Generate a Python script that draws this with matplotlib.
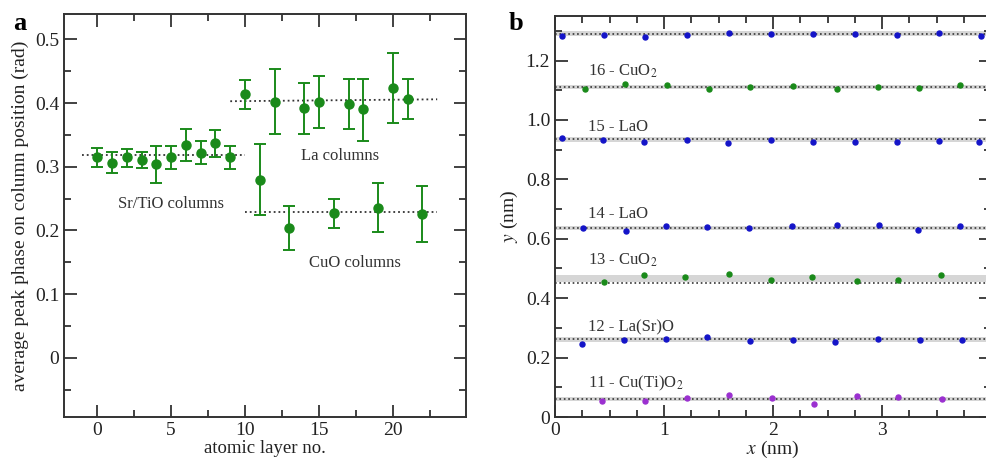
import numpy as np
import matplotlib
matplotlib.use("Agg")
import matplotlib.pyplot as plt
from matplotlib.ticker import MultipleLocator

plt.rcParams['font.family'] = 'serif'
plt.rcParams['font.serif'] = ['Liberation Serif', 'DejaVu Serif']
plt.rcParams['mathtext.fontset'] = 'stix'

# ---- panel a data ----
layer = [0, 1, 2, 3, 4, 5, 6, 7, 8, 9, 10, 11, 12, 13, 14, 15, 16, 17, 18, 19, 20, 21, 22]
phase = [0.316, 0.306, 0.316, 0.310, 0.304, 0.316, 0.334, 0.322, 0.337, 0.315,
         0.414, 0.280, 0.402, 0.204, 0.392, 0.402, 0.227, 0.398, 0.390, 0.235,
         0.424, 0.406, 0.226]
phase_hi = [0.330, 0.323, 0.328, 0.323, 0.333, 0.333, 0.359, 0.340, 0.358, 0.333,
            0.436, 0.336, 0.453, 0.238, 0.432, 0.443, 0.249, 0.438, 0.438, 0.274,
            0.478, 0.438, 0.270]
phase_lo = [0.300, 0.290, 0.300, 0.298, 0.274, 0.297, 0.309, 0.304, 0.316, 0.296,
            0.391, 0.224, 0.351, 0.169, 0.352, 0.361, 0.204, 0.360, 0.341, 0.197,
            0.369, 0.375, 0.182]
# mean levels (x start, x end, level)
srtio_line = ([-1, 10], [0.318, 0.318])
la_line = ([9, 23], [0.403, 0.406])
cuo_line = ([10, 23], [0.229, 0.229])

# ---- panel b data ----
row_labels = ['11 - Cu(Ti)O$_2$', '12 - La(Sr)O', '13 - CuO$_2$', '14 - LaO',
              '15 - LaO', '16 - CuO$_2$', None]
row_label_y = [0.112, 0.302, 0.526, 0.683, 0.975, 1.164, None]
row_colors = ['#9b30d0', '#1414c8', '#1a8a1a', '#1414c8', '#1414c8', '#1a8a1a', '#1414c8']
row_line = [0.062, 0.263, 0.451, 0.635, 0.936, 1.111, 1.290]
row_band = [0.061, 0.260, 0.467, 0.635, 0.935, 1.111, 1.291]
row_band_hw = [0.007, 0.008, 0.011, 0.007, 0.009, 0.006, 0.008]

x11 = [0.435, 0.824, 1.21, 1.60, 1.99, 2.38, 2.77, 3.15, 3.55]
y11 = [0.055, 0.053, 0.063, 0.073, 0.065, 0.045, 0.072, 0.069, 0.059]
x12 = [0.25, 0.63, 1.02, 1.39, 1.79, 2.18, 2.57, 2.96, 3.35, 3.73]
y12 = [0.247, 0.260, 0.263, 0.271, 0.255, 0.260, 0.253, 0.264, 0.260, 0.260]
x13 = [0.45, 0.82, 1.19, 1.60, 1.98, 2.36, 2.77, 3.15, 3.54]
y13 = [0.455, 0.478, 0.470, 0.481, 0.461, 0.471, 0.459, 0.462, 0.479]
x14 = [0.26, 0.65, 1.02, 1.39, 1.78, 2.17, 2.59, 2.97, 3.33, 3.72]
y14 = [0.636, 0.627, 0.644, 0.640, 0.636, 0.644, 0.648, 0.645, 0.631, 0.642]
x15 = [0.067, 0.44, 0.82, 1.21, 1.59, 1.98, 2.37, 2.75, 3.14, 3.52, 3.89]
y15 = [0.939, 0.931, 0.925, 0.934, 0.923, 0.931, 0.926, 0.925, 0.926, 0.929, 0.926]
x16 = [0.273, 0.64, 1.03, 1.41, 1.79, 2.18, 2.59, 2.96, 3.34, 3.72]
y16 = [1.104, 1.121, 1.119, 1.104, 1.111, 1.113, 1.105, 1.110, 1.108, 1.117]
x17 = [0.061, 0.45, 0.827, 1.21, 1.60, 1.98, 2.37, 2.75, 3.14, 3.52, 3.91]
y17 = [1.284, 1.285, 1.278, 1.286, 1.292, 1.288, 1.288, 1.288, 1.287, 1.293, 1.284]
row_x = [x11, x12, x13, x14, x15, x16, x17]
row_y = [y11, y12, y13, y14, y15, y16, y17]

fig = plt.figure(figsize=(9.86, 4.59), dpi=100)
spine_col = '#333333'
green = '#1a8a1a'


def style_axes(ax):
    for s in ax.spines.values():
        s.set_color(spine_col)
        s.set_linewidth(1.4)
    ax.tick_params(which='both', direction='in', top=True, right=True,
                   color=spine_col, width=1.3, labelsize=14, labelcolor='#222222')
    ax.tick_params(which='major', length=9)
    ax.tick_params(which='minor', length=5)


# panel a
ax = fig.add_axes([64 / 986, 42 / 459, 402 / 986, 403 / 459])
style_axes(ax)
ax.plot(*srtio_line, ls=':', color='#333333', lw=1.3)
ax.plot(*la_line, ls=':', color='#333333', lw=1.3)
ax.plot(*cuo_line, ls=':', color='#333333', lw=1.3)
phase = np.array(phase)
yerr = [phase - np.array(phase_lo), np.array(phase_hi) - phase]
ax.errorbar(layer, phase, yerr=yerr, fmt='o', color=green, ms=6.5,
            elinewidth=1.4, capsize=4, capthick=1.4, zorder=3)
ax.set_xlim(-2.25, 24.95)
ax.set_ylim(-0.093, 0.54)
ax.xaxis.set_minor_locator(MultipleLocator(2.5))
ax.yaxis.set_minor_locator(MultipleLocator(0.05))
ax.set_xticks([0, 5, 10, 15, 20])
ax.set_yticks([0, 0.1, 0.2, 0.3, 0.4, 0.5])
ax.set_yticklabels(['0', '0.1', '0.2', '0.3', '0.4', '0.5'])
ax.set_xlabel('atomic layer no.', fontsize=13.5, labelpad=1, color='#222222')
ax.set_ylabel('average peak phase on column position (rad)', fontsize=14,
              labelpad=4, color='#222222')
ax.text(5.0, 0.241, 'Sr/TiO columns', fontsize=12, ha='center', va='center', color='#333333')
ax.text(16.4, 0.317, 'La columns', fontsize=12, ha='center', va='center', color='#333333')
ax.text(17.45, 0.149, 'CuO columns', fontsize=12, ha='center', va='center', color='#333333')
fig.text(20 / 986, 1 - 24 / 459, 'a', fontsize=19, fontweight='bold', ha='center', va='center')

# panel b
bx = fig.add_axes([555 / 986, 42 / 459, 436 / 986, 401 / 459])
style_axes(bx)
for i in range(len(row_x)):
    bx.axhspan(row_band[i] - row_band_hw[i], row_band[i] + row_band_hw[i],
               color='#d6d6d6', lw=0, zorder=1)
    bx.axhline(row_line[i], ls=':', color='#333333', lw=1.2, zorder=2)
    bx.plot(row_x[i], row_y[i], 'o', color=row_colors[i], ms=3.6, zorder=3)
    if row_labels[i] is not None:
        bx.text(0.3, row_label_y[i], row_labels[i], fontsize=12, ha='left',
                va='center', color='#333333')
bx.set_xlim(0, 4.0)
bx.set_ylim(0, 1.35)
bx.xaxis.set_minor_locator(MultipleLocator(0.25))
bx.yaxis.set_minor_locator(MultipleLocator(0.1))
bx.set_yticks([0, 0.2, 0.4, 0.6, 0.8, 1.0, 1.2])
bx.set_yticklabels(['0', '0.2', '0.4', '0.6', '0.8', '1.0', '1.2'])
bx.set_xticks([0, 1, 2, 3])
bx.set_xticklabels(['0', '1', '2', '3'])
bx.set_xlabel('$x$ (nm)', fontsize=14, labelpad=0, color='#222222')
bx.set_ylabel('$y$ (nm)', fontsize=14, labelpad=4, color='#222222')
fig.text(516 / 986, 1 - 24 / 459, 'b', fontsize=19, fontweight='bold', ha='center', va='center')

fig.savefig('out.png', dpi=100)
